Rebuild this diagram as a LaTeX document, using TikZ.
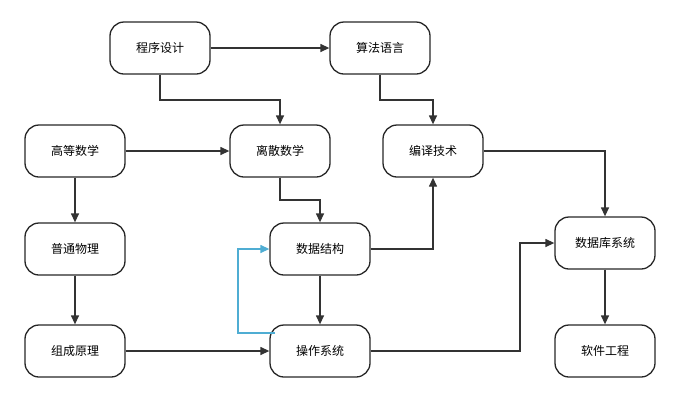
\documentclass[tikz,border=0pt]{standalone}
\usepackage{fontspec}
\setmainfont{Noto Sans CJK SC}
\usetikzlibrary{arrows.meta}
\begin{document}
\begin{tikzpicture}[x=1pt,y=-1pt,
  box/.style={draw=black!85,line width=1.3pt,rounded corners=14pt,minimum width=100pt,minimum height=52pt,font=\fontsize{12}{14}\selectfont,inner sep=0pt},
  conn/.style={draw=black!80,line width=1.3pt,-{Triangle[length=9pt,width=8pt]}},
  every node/.append style={}]
\useasboundingbox (0,0) rectangle (680,400);
\node[box] (cx) at (160,48) {程序设计};
\node[box] (sf) at (380,48) {算法语言};
\node[box] (gd) at (75,151) {高等数学};
\node[box] (ls) at (280,151) {离散数学};
\node[box] (by) at (433,151) {编译技术};
\node[box] (pt) at (75,249) {普通物理};
\node[box] (sj) at (320,249) {数据结构};
\node[box] (db) at (605,243) {数据库系统};
\node[box] (zc) at (75,351) {组成原理};
\node[box] (cz) at (320,351) {操作系统};
\node[box] (rj) at (605,351) {软件工程};
\draw[conn] (cx) -- (sf);
\draw[conn] (cx.south) |- (220,100) -| (ls.north);
\draw[conn] (sf.south) |- (400,100) -| (by.north);
\draw[conn] (gd) -- (ls);
\draw[conn] (gd) -- (pt);
\draw[conn] (pt) -- (zc);
\draw[conn] (ls.south) |- (300,200) -| (sj.north);
\draw[conn] (sj.east) -| (by.south);
\draw[conn] (by.east) -| (db.north);
\draw[conn] (sj) -- (cz);
\draw[conn] (zc) -- (cz);
\draw[conn] (cz.east) -- (520,351) |- (db.west);
\draw[conn] (db) -- (rj);
\coordinate (tq) at (275,333);
\draw[conn,draw=cyan!60!teal!80] (tq) -| (238,249) -- (sj.west);
\end{tikzpicture}
\end{document}
